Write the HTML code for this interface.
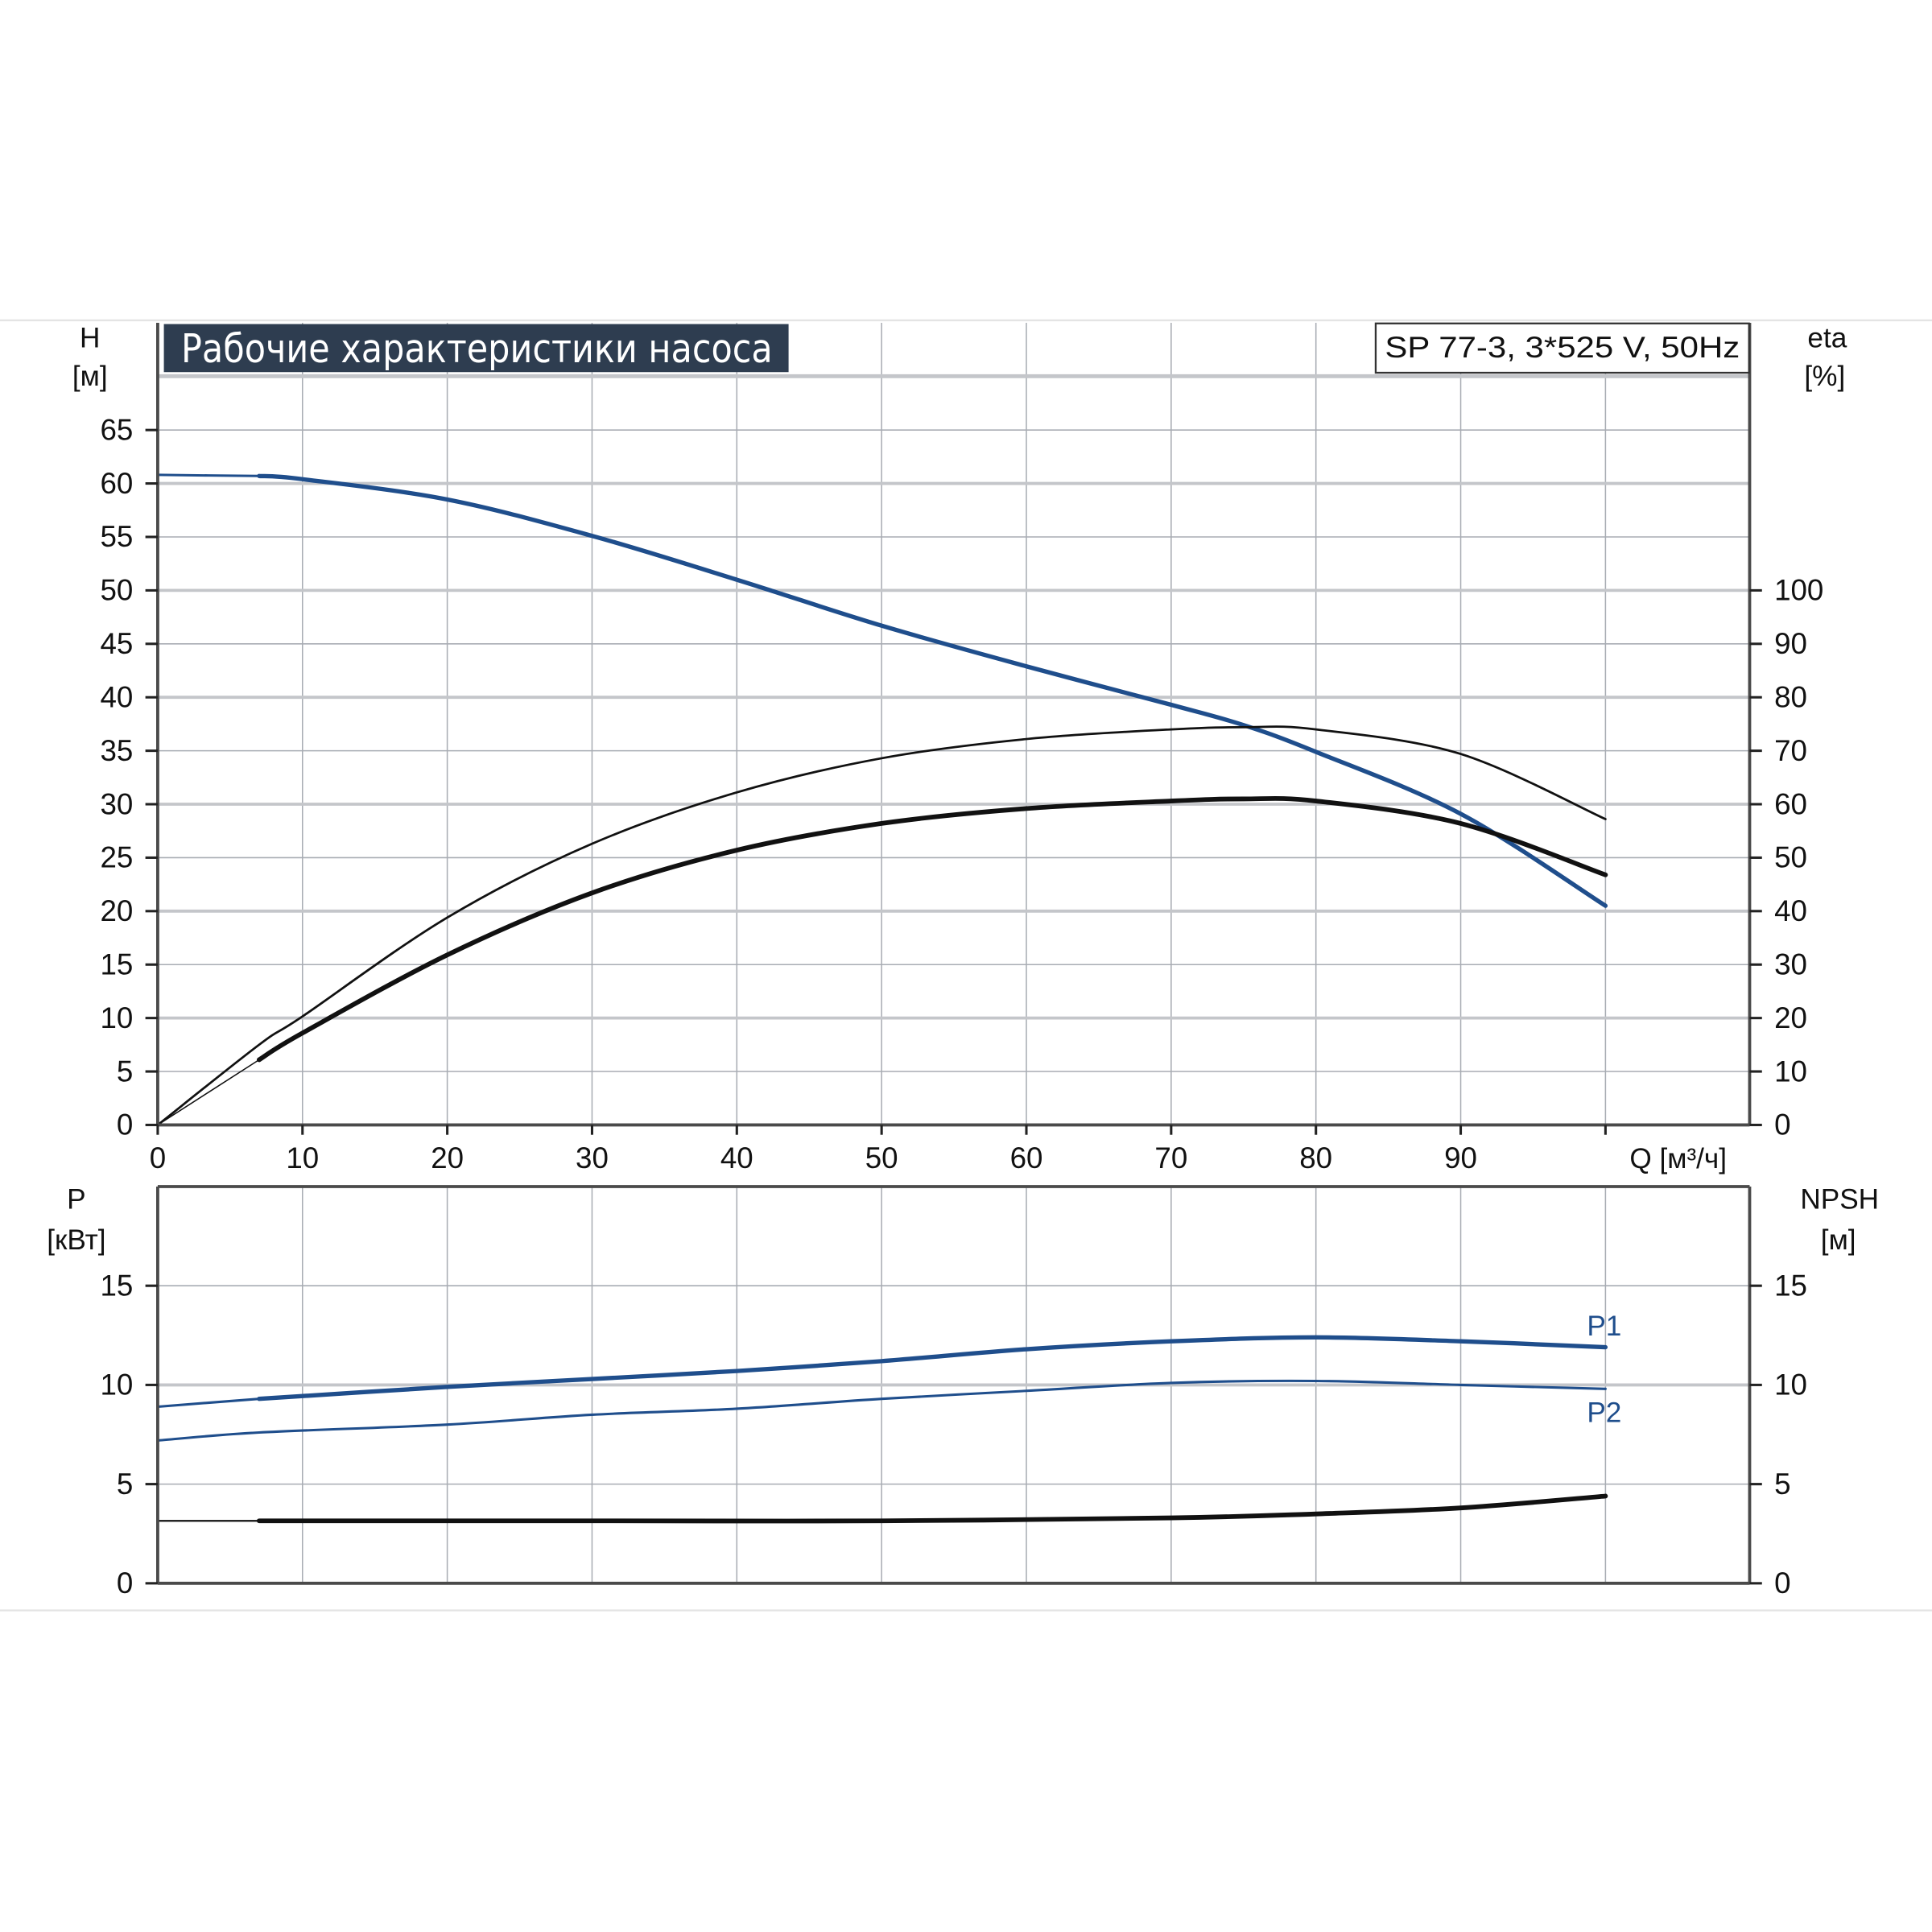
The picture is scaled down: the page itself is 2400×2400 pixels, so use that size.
<!DOCTYPE html>
<html><head><meta charset="utf-8"><style>
html,body{margin:0;padding:0;background:#fff;width:2400px;height:2400px;overflow:hidden}
svg{display:block}
text{font-family:"Liberation Sans","DejaVu Sans",sans-serif;fill:#111}
</style></head><body>
<svg id="chart" width="2400" height="2400" viewBox="0 0 1568 1568" xmlns="http://www.w3.org/2000/svg">
<line x1="0" y1="260" x2="1568" y2="260" stroke="#e4e4e4" stroke-width="1.5"/>
<line x1="0" y1="1307" x2="1568" y2="1307" stroke="#e4e4e4" stroke-width="1.5"/>
<g id="grid"></g>
<g id="curves"></g>
<g id="axes"></g>
<rect x="133" y="263" width="507" height="39" fill="#2e3d50"/>
<text x="147" y="294" font-size="32" textLength="480" lengthAdjust="spacingAndGlyphs" style="fill:#fff;font-family:'Liberation Sans Narrow','DejaVu Sans Condensed','Liberation Sans',sans-serif">Рабочие характеристики насоса</text>
<rect x="1116.5" y="262.5" width="303" height="40" fill="#fff" stroke="#333" stroke-width="1.5"/>
<text x="1268" y="290" font-size="24" text-anchor="middle" textLength="288" lengthAdjust="spacingAndGlyphs">SP 77-3, 3*525 V, 50Hz</text>
<text x="73" y="282" font-size="23" text-anchor="middle">H</text>
<text x="73" y="313" font-size="23" text-anchor="middle">[м]</text>
<text x="1483" y="282" font-size="23" text-anchor="middle">eta</text>
<text x="1481" y="313" font-size="23" text-anchor="middle">[%]</text>
<text x="1362" y="948" font-size="23" text-anchor="middle">Q [м³/ч]</text>
<text x="62" y="981" font-size="23" text-anchor="middle">P</text>
<text x="62" y="1014" font-size="23" text-anchor="middle">[кВт]</text>
<text x="1493" y="981" font-size="23" text-anchor="middle">NPSH</text>
<text x="1492" y="1014" font-size="23" text-anchor="middle">[м]</text>
<text x="1302" y="1084" font-size="23" text-anchor="middle" style="fill:#1f4e8c">P1</text>
<text x="1302" y="1154" font-size="23" text-anchor="middle" style="fill:#1f4e8c">P2</text>
</svg>
<script>
const qTicks=[0,10,20,30,40,50,60,70,80,90];
const hTicks=[0,5,10,15,20,25,30,35,40,45,50,55,60,65];
const etaTicks=[0,10,20,30,40,50,60,70,80,90,100];
const pTicks=[0,5,10,15];
const npshTicks=[0,5,10,15];
const flowQ=[0,7,10,20,30,40,50,60,70,75,80,90,100];
const headH=[60.8,60.7,60.4,58.5,55.1,51.0,46.7,42.9,39.3,37.4,34.9,29.1,20.5];
const etaPumpQ=[0,7,10,20,30,40,50,60,70,75,80,90,100];
const etaPump=[0,15.0,20.3,38.8,52.6,62.2,68.6,72.2,74.0,74.4,74.0,69.4,57.2];
const etaTotalQ=[7,10,20,30,40,50,60,70,75,80,90,100];
const etaTotal=[12.2,17.2,31.8,43.4,51.4,56.4,59.2,60.6,61.0,60.6,56.4,46.8];
const p1Q=[0,7,20,30,40,50,60,70,80,90,100];
const p1=[8.9,9.3,9.9,10.3,10.7,11.2,11.8,12.2,12.4,12.2,11.9];
const p2Q=[0,7,20,30,40,50,60,70,80,90,100];
const p2=[7.2,7.6,8.0,8.5,8.8,9.3,9.7,10.1,10.2,10.0,9.8];
const npshQ=[0,7,30,50,70,80,90,100];
const npsh=[3.15,3.15,3.15,3.15,3.3,3.5,3.8,4.4];

const NS='http://www.w3.org/2000/svg';
const X0=128,XR=1420,YT=262,YB=913,LT=963,LB=1285;
const xs=q=>X0+q*11.75;
const yH=h=>YB-h*(YB-349)/65;
const yEta=e=>yH(e/2);
const yP=p=>LB-p*(LB-963)/20;
const grid=document.getElementById('grid'),curves=document.getElementById('curves'),axes=document.getElementById('axes');
function mk(tag,attrs,parent){const e=document.createElementNS(NS,tag);for(const k in attrs)e.setAttribute(k,attrs[k]);parent.appendChild(e);return e;}
qTicks.concat([100]).forEach(q=>{if(q===0)return;
  let l=mk('line',{x1:xs(q),y1:YT,x2:xs(q),y2:YB,stroke:'#a8acb3','stroke-width':1},grid);
  
  
  let l2=mk('line',{x1:xs(q),y1:LT,x2:xs(q),y2:LB,stroke:'#a8acb3','stroke-width':1},grid);
  
  
});
hTicks.concat([70]).forEach(h=>{if(h===0)return;
  const major=h%10===0;
  let l=mk('line',{x1:X0,y1:yH(h),x2:XR,y2:yH(h),stroke:major?'#c4c6ca':'#a8acb3','stroke-width':major?2.5:1},grid);
  
  
});
[5,10,15].forEach(p=>{
  let l=mk('line',{x1:X0,y1:yP(p),x2:XR,y2:yP(p),stroke:p===10?'#c4c6ca':'#a8acb3','stroke-width':p===10?2.5:1},grid);
  
  
});
let hb=mk('line',{x1:X0,y1:305,x2:XR,y2:305,stroke:'#c4c6ca','stroke-width':2.5},grid);


function path(qs,vs,yf,color,w,name,from){
  const pts=[];for(let i=from||0;i<qs.length;i++)pts.push([xs(qs[i]),yf(vs[i])]);
  let d='M'+pts[0][0].toFixed(1)+','+pts[0][1].toFixed(1);
  for(let i=0;i<pts.length-1;i++){
    const p0=pts[Math.max(i-1,0)],p1=pts[i],p2=pts[i+1],p3=pts[Math.min(i+2,pts.length-1)];
    const c1=[p1[0]+(p2[0]-p0[0])/6,p1[1]+(p2[1]-p0[1])/6];
    const c2=[p2[0]-(p3[0]-p1[0])/6,p2[1]-(p3[1]-p1[1])/6];
    d+='C'+c1[0].toFixed(1)+','+c1[1].toFixed(1)+' '+c2[0].toFixed(1)+','+c2[1].toFixed(1)+' '+p2[0].toFixed(1)+','+p2[1].toFixed(1);
  }
  let p=mk('path',{d:d,fill:'none',stroke:color,'stroke-width':w,'stroke-linejoin':'round','stroke-linecap':'round'},curves);
  
  
}
const BL='#1f4e8c';
path(flowQ.slice(0,2),headH.slice(0,2),yH,BL,2,'head-curve-start');
path(flowQ,headH,yH,BL,3.5,'head-curve',1);
path(etaPumpQ,etaPump,yEta,'#111',1.8,'eta-pump-curve');
path([0,etaTotalQ[0]],[0,etaTotal[0]],yEta,'#111',1,'eta-total-start');
path(etaTotalQ,etaTotal,yEta,'#111',3.8,'eta-total-curve');
path(p1Q.slice(0,2),p1.slice(0,2),yP,BL,2,'p1-curve-start');
path(p1Q,p1,yP,BL,3.5,'p1-curve',1);
path(p2Q,p2,yP,BL,2,'p2-curve');
path(npshQ.slice(0,2),npsh.slice(0,2),yP,'#111',1.5,'npsh-curve-start');
path(npshQ,npsh,yP,'#111',3.8,'npsh-curve',1);
[[X0,YT,X0,YB],[XR,YT,XR,YB],[X0,YB,XR,YB],[X0,LT,XR,LT],[X0,LT,X0,LB],[XR,LT,XR,LB],[X0,LB,XR,LB]].forEach(a=>{
  let l=mk('line',{x1:a[0],y1:a[1],x2:a[2],y2:a[3],stroke:'#4a4a4a','stroke-width':2.5},axes);
  
  
});
function label(x,y,t,anchor,name){let e=mk('text',{x:x,y:y,'font-size':24,'text-anchor':anchor},axes);e.textContent=t;
  
  }
function tick(x1,y1,x2,y2){let l=mk('line',{x1:x1,y1:y1,x2:x2,y2:y2,stroke:'#222','stroke-width':2},axes);
  
  }
hTicks.forEach(h=>{tick(118,yH(h),X0,yH(h));label(108,yH(h)+8,String(h),'end','h-tick-label');});
etaTicks.forEach(e=>{tick(XR,yEta(e),1430,yEta(e));label(1440,yEta(e)+8,String(e),'start','eta-tick-label');});
qTicks.forEach(q=>{tick(xs(q),YB,xs(q),YB+8);label(xs(q),948,String(q),'middle','q-tick-label');});
tick(xs(100),YB,xs(100),YB+8);
pTicks.forEach(p=>{tick(118,yP(p),X0,yP(p));label(108,yP(p)+8,String(p),'end','p-tick-label');});
npshTicks.forEach(p=>{tick(XR,yP(p),1430,yP(p));label(1440,yP(p)+8,String(p),'start','npsh-tick-label');});
</script>
</body></html>
